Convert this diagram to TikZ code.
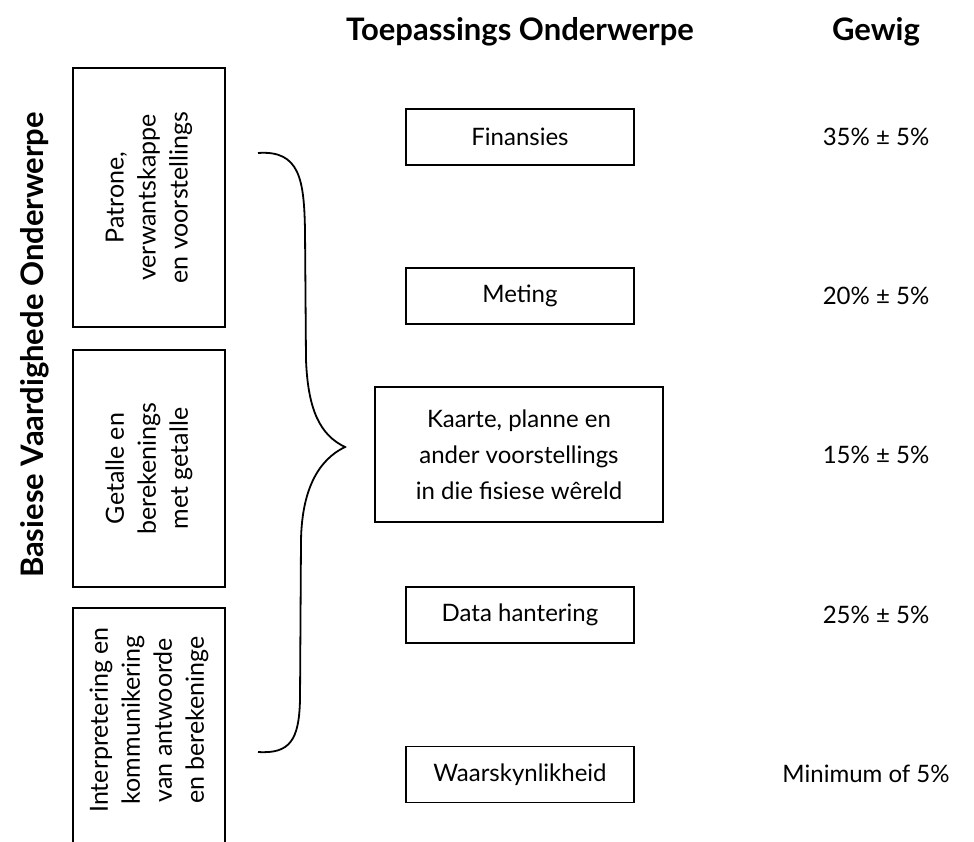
\documentclass[tikz,border=0pt]{standalone}
\usepackage{fontspec}
\setmainfont{Lato}
\begin{document}
\begin{tikzpicture}[x=1pt,y=-1pt,
  box/.style={draw=black,line width=1.6pt,inner sep=0pt,align=center,font=\fontsize{24}{36}\selectfont},
  vbox/.style={box,rotate=90,font=\fontsize{25}{32}\selectfont},
  head/.style={font=\bfseries\fontsize{31}{36}\selectfont},
  wt/.style={font=\fontsize{24}{28}\selectfont}]
\useasboundingbox (0,0) rectangle (974,842);
% headings
\node[head] (h1) at (520,32) {Toepassings Onderwerpe};
\node[head] (h2) at (876,32) {Gewig};
\node[head,rotate=90] (h3) at (35,345) {Basiese Vaardighede Onderwerpe};
% left boxes
\node[vbox,minimum width=259pt,minimum height=152pt] (l1) at (149,197.5) {Patrone,\\verwantskappe\\en voorstellings};
\node[vbox,minimum width=237pt,minimum height=152pt] (l2) at (149,468.5) {Getalle en\\berekenings\\met getalle};
\draw[line width=1.6pt] (73,850) -- (73,608) -- (225,608) -- (225,850);
\node[font=\fontsize{25}{32}\selectfont,align=center,rotate=90] (l3) at (149,720) {Interpretering en\\kommunikering\\van antwoorde\\en berekeninge};
% brace
\draw[line width=1.8pt] (258,153) .. controls (300,150) and (304,180) .. (305,230)
  -- (306,360) .. controls (308,410) and (320,435) .. (345,447)
  .. controls (318,460) and (302,490) .. (301,540)
  -- (300,700) .. controls (299,740) and (290,754) .. (258,752);
% right boxes
\node[box,minimum width=228pt,minimum height=56pt] (r1) at (520,137) {Finansies};
\node[box,minimum width=228pt,minimum height=56pt] (r2) at (520,296) {Meting};
\node[box,minimum width=288pt,minimum height=135pt] (r3) at (519,454.5) {Kaarte, planne en\\ander voorstellings\\in die fisiese wêreld};
\node[box,minimum width=228pt,minimum height=56pt] (r4) at (520,615) {Data hantering};
\node[box,minimum width=228pt,minimum height=56pt] (r5) at (520,774.5) {Waarskynlikheid};
% weights
\node[wt] (w1) at (876,137) {35\% ± 5\%};
\node[wt] (w2) at (876,296) {20\% ± 5\%};
\node[wt] (w3) at (876,455) {15\% ± 5\%};
\node[wt] (w4) at (876,615) {25\% ± 5\%};
\node[wt] (w5) at (866,774) {Minimum of 5\%};
\end{tikzpicture}
\end{document}
